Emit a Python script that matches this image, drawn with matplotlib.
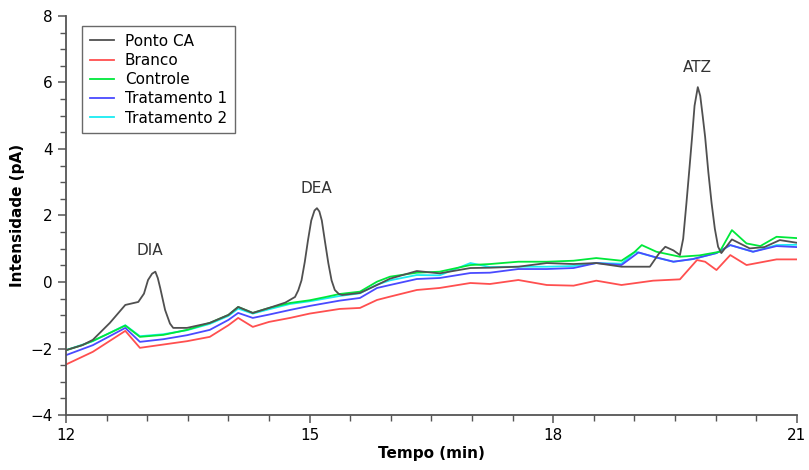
import numpy as np
import matplotlib

matplotlib.use("Agg")
import matplotlib.pyplot as plt
from matplotlib.ticker import MultipleLocator

# chromatogram traces (time in min, intensity in pA)
t_ponto = [12.0, 12.2, 12.33, 12.54, 12.73, 12.89, 12.96, 13.01, 13.06, 13.1, 13.13,
           13.16, 13.22, 13.28, 13.32, 13.49, 13.77, 14.0, 14.12, 14.3, 14.5, 14.7,
           14.82, 14.86, 14.9, 14.94, 14.98, 15.02, 15.06, 15.09, 15.12, 15.15, 15.19,
           15.23, 15.27, 15.31, 15.36, 15.4, 15.62, 15.83, 15.99, 16.32, 16.6,
           16.98, 17.22, 17.57, 17.92, 18.25, 18.53, 18.84, 19.0, 19.19, 19.3, 19.38,
           19.48, 19.56, 19.6, 19.64, 19.68, 19.71, 19.74, 19.78, 19.81, 19.84, 19.87,
           19.91, 19.95, 19.99, 20.03, 20.07, 20.2, 20.42, 20.6, 20.79, 21.0]
y_ponto = [-2.05, -1.9, -1.74, -1.23, -0.69, -0.6, -0.35, 0.06, 0.25, 0.31, 0.12,
           -0.18, -0.84, -1.25, -1.38, -1.38, -1.23, -0.99, -0.75, -0.93, -0.78, -0.62,
           -0.45, -0.25, 0.05, 0.6, 1.26, 1.85, 2.15, 2.22, 2.12, 1.85, 1.2,
           0.57, 0.05, -0.24, -0.36, -0.39, -0.33, -0.09, 0.1, 0.33, 0.26,
           0.42, 0.43, 0.46, 0.57, 0.54, 0.57, 0.46, 0.46, 0.46, 0.85, 1.06,
           0.95, 0.81, 1.3, 2.37, 3.5, 4.37, 5.3, 5.86, 5.6, 5.0, 4.37,
           3.3, 2.37, 1.6, 1.06, 0.87, 1.28, 1.01, 1.05, 1.26, 1.18]

t_branco = [12.0, 12.33, 12.73, 12.91, 13.2, 13.49, 13.77, 14.0, 14.12, 14.3, 14.5,
            14.76, 15.0, 15.37, 15.62, 15.83, 15.99, 16.32, 16.6, 16.98, 17.22, 17.57,
            17.92, 18.25, 18.53, 18.84, 19.23, 19.56, 19.77, 19.87, 20.01, 20.18,
            20.38, 20.75, 21.0]
y_branco = [-2.48, -2.1, -1.47, -1.98, -1.88, -1.78, -1.65, -1.3, -1.08, -1.35, -1.2,
            -1.08, -0.95, -0.81, -0.78, -0.54, -0.44, -0.24, -0.18, -0.03, -0.06, 0.06,
            -0.09, -0.11, 0.04, -0.09, 0.04, 0.08, 0.66, 0.61, 0.36, 0.81,
            0.51, 0.68, 0.68]

t_controle = [12.0, 12.2, 12.33, 12.55, 12.73, 12.91, 13.2, 13.49, 13.77, 14.0, 14.12,
              14.3, 14.5, 14.76, 15.0, 15.2, 15.37, 15.62, 15.83, 15.99, 16.32, 16.6,
              16.98, 17.22, 17.57, 17.92, 18.25, 18.53, 18.84, 19.0, 19.09, 19.27,
              19.56, 19.8, 20.05, 20.2, 20.38, 20.55, 20.75, 21.0]
y_controle = [-2.05, -1.9, -1.77, -1.52, -1.31, -1.65, -1.59, -1.44, -1.23, -0.99, -0.75,
              -0.93, -0.78, -0.63, -0.55, -0.45, -0.36, -0.29, 0.01, 0.16, 0.28, 0.31,
              0.51, 0.54, 0.61, 0.61, 0.64, 0.72, 0.64, 0.9, 1.11, 0.91,
              0.76, 0.8, 0.91, 1.56, 1.16, 1.08, 1.36, 1.32]

t_trat1 = [12.0, 12.33, 12.73, 12.91, 13.2, 13.49, 13.77, 14.0, 14.12, 14.3, 14.5,
           14.76, 15.0, 15.37, 15.62, 15.83, 15.99, 16.32, 16.6, 16.98, 17.22, 17.57,
           17.92, 18.25, 18.53, 18.84, 19.05, 19.25, 19.48, 19.72, 20.01, 20.18,
           20.46, 20.75, 21.0]
y_trat1 = [-2.2, -1.9, -1.38, -1.8, -1.72, -1.6, -1.44, -1.14, -0.93, -1.08, -0.98,
           -0.84, -0.72, -0.56, -0.48, -0.18, -0.09, 0.09, 0.12, 0.27, 0.28, 0.39,
           0.39, 0.42, 0.57, 0.51, 0.89, 0.75, 0.61, 0.69, 0.87, 1.11,
           0.91, 1.08, 1.05]

t_trat2 = [12.0, 12.33, 12.73, 12.91, 13.2, 13.49, 13.77, 14.0, 14.12, 14.3, 14.5,
           14.76, 15.0, 15.37, 15.62, 15.83, 15.99, 16.32, 16.6, 16.98, 17.22, 17.57,
           17.92, 18.25, 18.53, 18.84, 19.01, 19.25, 19.48, 19.72, 20.01, 20.18,
           20.46, 20.75, 21.0]
y_trat2 = [-2.05, -1.78, -1.3, -1.63, -1.57, -1.45, -1.26, -1.02, -0.8, -0.95, -0.82,
           -0.66, -0.58, -0.42, -0.34, -0.08, 0.05, 0.21, 0.2, 0.57, 0.45, 0.46,
           0.46, 0.48, 0.57, 0.55, 0.91, 0.75, 0.61, 0.69, 0.87, 1.11,
           0.91, 1.11, 1.12]

series = [
    ("Ponto CA", t_ponto, y_ponto, "#505050"),
    ("Branco", t_branco, y_branco, "#ff4f4f"),
    ("Controle", t_controle, y_controle, "#00e83a"),
    ("Tratamento 1", t_trat1, y_trat1, "#4a4aff"),
    ("Tratamento 2", t_trat2, y_trat2, "#19ecf2"),
]

peak_names = ["DIA", "DEA", "ATZ"]
peak_pos = [(13.03, 0.96), (15.08, 2.8), (19.78, 6.44)]

fig = plt.figure(figsize=(8.09, 4.70), dpi=100)
ax = fig.add_axes([0.0816, 0.117, 0.9034, 0.849])

# draw the traces in reverse so Ponto CA ends on top
for name, t, y, c in series[::-1]:
    ax.plot(t, y, color=c, lw=1.3, label=name)

for name, (x, y) in zip(peak_names, peak_pos):
    ax.text(x, y, name, ha="center", va="center", fontsize=11, color="#333333")

ax.set_xlim(12, 21)
ax.set_ylim(-4, 8)
ax.xaxis.set_major_locator(MultipleLocator(3))
ax.xaxis.set_minor_locator(MultipleLocator(0.5))
ax.yaxis.set_major_locator(MultipleLocator(2))
ax.yaxis.set_minor_locator(MultipleLocator(0.5))

for side in ["top", "right"]:
    ax.spines[side].set_visible(False)
for side in ["left", "bottom"]:
    ax.spines[side].set_color("#555555")
    ax.spines[side].set_linewidth(1.3)

ax.tick_params(which="major", length=6, width=1.1, color="#555555", labelsize=11)
ax.tick_params(which="minor", length=4, width=1.0, color="#555555")

ax.set_xlabel("Tempo (min)", fontsize=11, fontweight="bold", labelpad=2)
ax.set_ylabel("Intensidade (pA)", fontsize=11, fontweight="bold", labelpad=4)

handles, labels = ax.get_legend_handles_labels()
leg = ax.legend(handles[::-1], labels[::-1], loc="upper left",
                bbox_to_anchor=(0.022, 0.975), borderaxespad=0,
                fontsize=11, frameon=True, fancybox=False,
                handlelength=1.6, labelspacing=0.28, borderpad=0.5,
                handletextpad=0.7)
leg.get_frame().set_edgecolor("#444444")
leg.get_frame().set_linewidth(1.0)

plt.savefig("out.png", dpi=100)
